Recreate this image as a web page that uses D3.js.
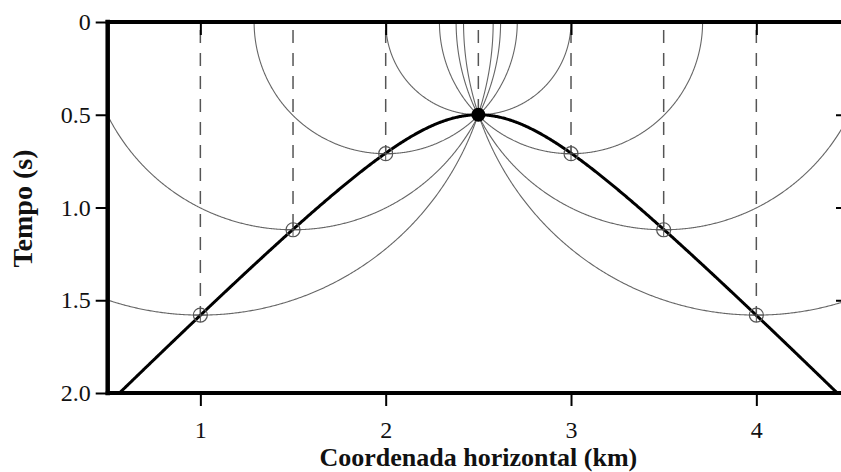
<!DOCTYPE html>
<html>
<head>
<meta charset="utf-8">
<script src="https://cdn.jsdelivr.net/npm/d3@7"></script>
<style>
  html, body { margin: 0; padding: 0; background: #fff; }
  svg { display: block; }
</style>
</head>
<body>
<svg id="chart" width="841" height="472"></svg>
<script>
// Diffraction point: apex of the traveltime hyperbola
const apexX = 2.5;      // km
const apexTime = 0.5;   // s
const velocity = 2.0;   // km/s

// Receiver positions and the picked traveltimes on the hyperbola
const positions = [1, 1.5, 2, 2.5, 3, 3.5, 4];
const times = [1.58, 1.12, 0.71, 0.50, 0.71, 1.12, 1.58];

// Axis ticks
const xTicks = [1, 2, 3, 4];
const yTicks = [0, 0.5, 1.0, 1.5, 2.0];
const yTickLabels = ["0", "0.5", "1.0", "1.5", "2.0"];
const xTitle = "Coordenada horizontal (km)";
const yTitle = "Tempo (s)";

const W = 841, H = 472;
const plotLeft = 107.7, plotRight = 849, plotTop = 22, plotBottom = 393;

const svg = d3.select("#chart");
const x = d3.scaleLinear().domain([0.5, 4.5]).range([plotLeft, plotRight]);
const y = d3.scaleLinear().domain([0, 2]).range([plotTop, plotBottom]);

svg.append("defs").append("clipPath").attr("id", "plot-clip")
  .append("rect")
  .attr("x", plotLeft).attr("y", plotTop)
  .attr("width", plotRight - plotLeft).attr("height", plotBottom - plotTop);

const plot = svg.append("g").attr("clip-path", "url(#plot-clip)");
const line = d3.line().x(d => x(d[0])).y(d => y(d[1]));

// Semicircles: each trace's time spread as a circle centred at the surface
const thetas = d3.range(0, 1.0001, 1 / 720).map(f => f * Math.PI);
positions.forEach((p, i) => {
  const r = times[i];
  const pts = thetas.map(a => [p + r * Math.cos(a), r * Math.sin(a)]);
  plot.append("path")
    .attr("d", line(pts))
    .attr("fill", "none")
    .attr("stroke", "#666")
    .attr("stroke-width", 1.1);
});

// Dashed verticals from the surface down to each picked time
positions.forEach((p, i) => {
  plot.append("line")
    .attr("x1", x(p)).attr("x2", x(p))
    .attr("y1", y(0)).attr("y2", y(times[i]))
    .attr("stroke", "#555")
    .attr("stroke-width", 1.5)
    .attr("stroke-dasharray", "13,10")
    .attr("stroke-dashoffset", 15);
});

// Diffraction hyperbola
const hx = d3.range(0.5, 4.5001, 0.005);
const hyper = hx.map(v => [v, Math.sqrt(apexTime * apexTime + Math.pow(2 * (v - apexX) / velocity, 2))]);
plot.append("path")
  .attr("d", line(hyper))
  .attr("fill", "none")
  .attr("stroke", "#000")
  .attr("stroke-width", 3);

// Markers: open crossed circles at picks, filled circle at the apex
positions.forEach((p, i) => {
  const cx = x(p), cy = y(times[i]);
  if (p === apexX) {
    svg.append("circle").attr("cx", cx).attr("cy", cy).attr("r", 7)
      .attr("fill", "#000");
  } else {
    const rr = 7;
    svg.append("circle").attr("cx", cx).attr("cy", cy).attr("r", rr)
      .attr("fill", "none").attr("stroke", "#555").attr("stroke-width", 1.2);
    svg.append("line").attr("x1", cx - rr).attr("x2", cx + rr)
      .attr("y1", cy).attr("y2", cy).attr("stroke", "#555").attr("stroke-width", 1);
    svg.append("line").attr("x1", cx).attr("x2", cx)
      .attr("y1", cy - rr).attr("y2", cy + rr).attr("stroke", "#555").attr("stroke-width", 1);
  }
});

// Axes
const fontFace = "'Liberation Serif', 'Times New Roman', Times, serif";

const yAxis = svg.append("g").attr("transform", `translate(${plotLeft},0)`)
  .call(d3.axisLeft(y).tickValues(yTicks).tickFormat((d, i) => yTickLabels[i])
    .tickSize(12).tickPadding(5).tickSizeOuter(0));
const xAxis = svg.append("g").attr("transform", `translate(0,${plotBottom})`)
  .call(d3.axisBottom(x).tickValues(xTicks).tickFormat(d3.format("d"))
    .tickSize(13).tickPadding(15).tickSizeOuter(0));
const topAxis = svg.append("g").attr("transform", `translate(0,${plotTop})`)
  .call(d3.axisBottom(x).tickValues(xTicks).tickFormat("")
    .tickSize(13).tickSizeOuter(0));
const rightAxis = svg.append("g").attr("transform", `translate(${plotRight},0)`)
  .call(d3.axisLeft(y).tickValues(yTicks.slice(1, -1)).tickFormat("")
    .tickSize(13).tickSizeOuter(0));

[xAxis, yAxis, topAxis, rightAxis].forEach(g => {
  g.attr("font-family", null).attr("font-size", null);
  g.select(".domain").remove();
  g.selectAll(".tick line").attr("stroke", "#000").attr("stroke-width", 2);
  g.selectAll(".tick text")
    .attr("fill", "#111")
    .style("font-family", fontFace)
    .style("font-size", "24px");
});

// Frame: heavy lines on left, top and bottom
const frame = svg.append("g").attr("stroke", "#000").attr("stroke-linecap", "square");
frame.append("line").attr("x1", plotLeft).attr("x2", plotLeft).attr("y1", plotTop).attr("y2", plotBottom)
  .attr("stroke-width", 4.5);
frame.append("line").attr("x1", plotLeft).attr("x2", W + 5).attr("y1", plotTop).attr("y2", plotTop)
  .attr("stroke-width", 4);
frame.append("line").attr("x1", plotLeft).attr("x2", W + 5).attr("y1", plotBottom).attr("y2", plotBottom)
  .attr("stroke-width", 4);

// Titles
svg.append("text")
  .attr("x", (plotLeft + plotRight) / 2).attr("y", 466)
  .attr("text-anchor", "middle")
  .style("font-family", fontFace)
  .style("font-weight", "bold")
  .style("font-size", "26px")
  .attr("fill", "#111")
  .text(xTitle);

svg.append("text")
  .attr("transform", `translate(32,${(plotTop + plotBottom) / 2 + 1}) rotate(-90)`)
  .attr("text-anchor", "middle")
  .style("font-family", fontFace)
  .style("font-weight", "bold")
  .style("font-size", "28px")
  .attr("fill", "#111")
  .text(yTitle);
</script>
</body>
</html>
